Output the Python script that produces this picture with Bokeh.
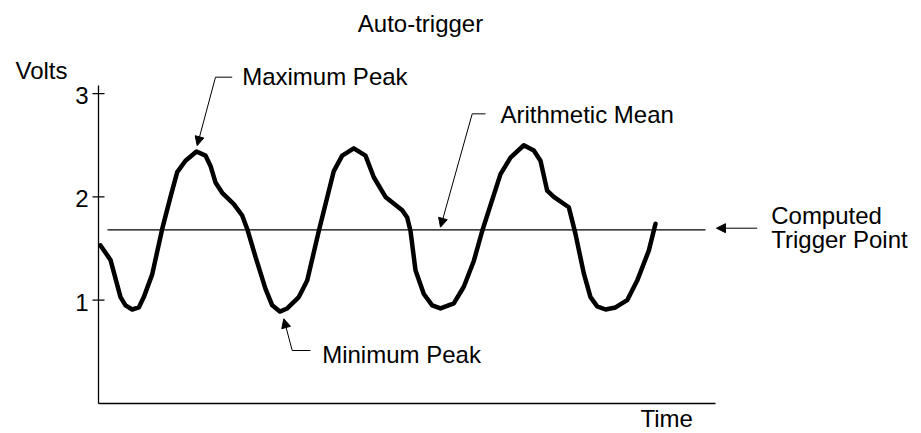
from bokeh.plotting import figure
from bokeh.models import Range1d, Label, Arrow, NormalHead
from bokeh.embed import file_html
from bokeh.resources import INLINE

# ---- data ----
time = [2, 12, 22, 27, 33.7, 40.3, 45.3, 53.7, 63.7, 72, 78.7, 87, 98, 107, 112, 117,
        123.7, 135.3, 143.7, 148.7, 157, 167, 173.7, 181.3, 188.7, 200.3, 208.7, 220.3,
        235.3, 243.7, 255.3, 267, 275.3, 287, 303.7, 308.7, 312, 317, 325.3, 333.7, 342,
        355.3, 365.3, 375.3, 383.7, 402, 412, 425.3, 435.3, 442, 448.7, 455.3, 470.3,
        473.7, 477, 485.3, 492, 498.7, 507, 517, 528.7, 538.7, 550.3, 557]
volts = [1.53, 1.39, 1.03, 0.95, 0.91, 0.93, 1.03, 1.25, 1.69, 2.00, 2.24, 2.35, 2.44, 2.40,
         2.30, 2.14, 2.04, 1.93, 1.82, 1.69, 1.42, 1.11, 0.95, 0.89, 0.92, 1.03, 1.19, 1.67,
         2.25, 2.40, 2.47, 2.40, 2.19, 2.00, 1.87, 1.80, 1.67, 1.29, 1.06, 0.95, 0.92, 0.97,
         1.13, 1.38, 1.67, 2.22, 2.38, 2.50, 2.45, 2.35, 2.06, 2.00, 1.90, 1.77, 1.64, 1.26,
         1.03, 0.94, 0.91, 0.93, 1.00, 1.19, 1.48, 1.74]
mean_level = 1.68
mean_time = [9, 607]
y_ticks = [1, 2, 3]
y_tick_labels = ["1", "2", "3"]
y_axis_top = 3.078
x_axis_end = 617
title_text = "Auto-trigger"
y_label = "Volts"
x_label = "Time"

FONT = "Liberation Sans"
FS = "24px"

# the plotting frame spans the whole canvas; the axes are drawn in data space
p = figure(width=921, height=433, output_backend="svg", toolbar_location=None,
           x_range=Range1d(-98, 823), y_range=Range1d(-0.2904, 3.9013),
           x_axis_location=None, y_axis_location=None,
           min_border=0, min_border_left=0, min_border_right=0,
           min_border_top=0, min_border_bottom=0)
p.outline_line_color = None
p.grid.visible = False
p.background_fill_color = "white"
p.border_fill_color = "white"

# axes
p.line([0, 0], [0, y_axis_top], line_color="black", line_width=1.3)
p.line([0, x_axis_end], [0, 0], line_color="black", line_width=1.3)
p.segment(x0=[-6] * len(y_ticks), y0=y_ticks, x1=[6] * len(y_ticks), y1=y_ticks,
          line_color="black", line_width=1.3)
p.text(x=[-10] * len(y_ticks), y=y_ticks, text=y_tick_labels, text_font={"value": FONT},
       text_font_size=FS, text_color="black", text_align="right", text_baseline="middle",
       y_offset=2)

# waveform
p.line(time, volts, line_color="black", line_width=4.5, line_join="round", line_cap="round")
# arithmetic mean line
p.line(mean_time, [mean_level, mean_level], line_color="black", line_width=1.2)

DY = 8 / 103.3  # label baseline correction


def lab(text, x, y, align="left"):
    p.add_layout(Label(x=x, y=y + DY, text=text, text_font=FONT, text_font_size=FS,
                       text_color="black", text_align=align, text_baseline="alphabetic"))


lab(title_text, 322, 3.601, "center")
lab(y_label, -83, 3.143)
lab("Maximum Peak", 143.7, 3.085)
lab("Arithmetic Mean", 402, 2.723)
lab("Minimum Peak", 223.7, 0.40)
lab("Computed", 672.7, 1.74)
lab("Trigger Point", 672.7, 1.513)
lab(x_label, 542, -0.226)


def leader(x0, y0, x1, y1):
    p.add_layout(Arrow(x_start=x0, y_start=y0, x_end=x1, y_end=y1, end=None,
                       line_color="black", line_width=1))


def pointer(x0, y0, x1, y1):
    p.add_layout(Arrow(x_start=x0, y_start=y0, x_end=x1, y_end=y1,
                       end=NormalHead(size=9, fill_color="black", line_color="black", line_width=1),
                       line_color="black", line_width=1))


# Maximum peak
leader(133.7, 3.159, 117, 3.159)
pointer(117, 3.159, 98.7, 2.497)
# Arithmetic mean
leader(387, 2.804, 373.7, 2.804)
pointer(373.7, 2.804, 342, 1.707)
# Minimum peak
leader(212, 0.513, 193.7, 0.513)
pointer(193.7, 0.513, 185.3, 0.82)
# Computed trigger point
pointer(658.7, 1.697, 618, 1.697)

open("out.html", "w").write(file_html(p, INLINE))
